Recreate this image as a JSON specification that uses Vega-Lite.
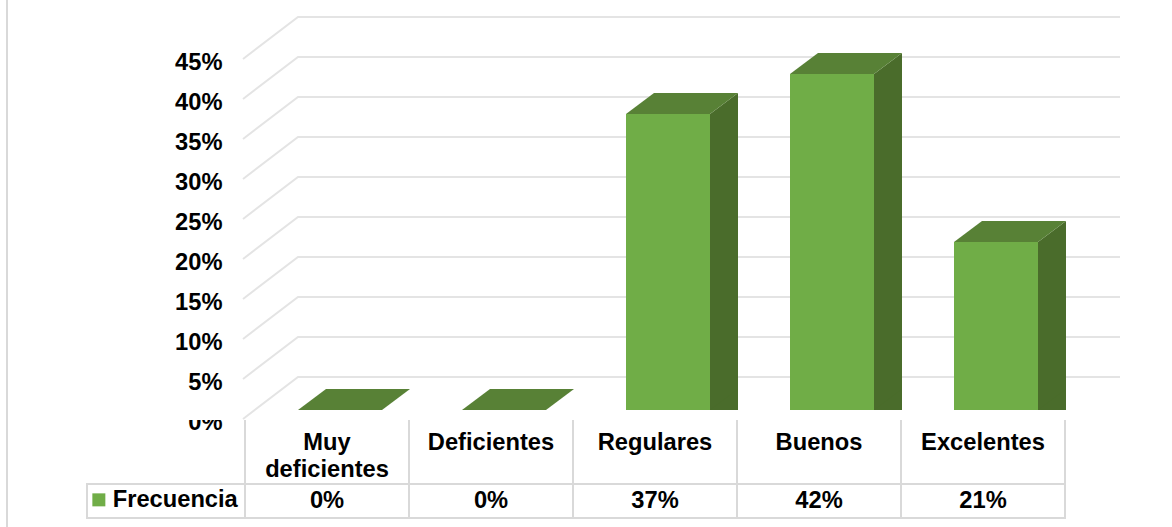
{
"$schema":"https://vega.github.io/schema/vega-lite/v6.json",
"width":1172,"height":527,"autosize":{"type":"none"},"padding":0,"background":"#ffffff",
"view":{"stroke":null},
"config":{"text":{"font":"Liberation Sans"}},
"datasets":{
"filas":[
{"categoria":"Muy deficientes","valor":0,"serie":"Frecuencia"},
{"categoria":"Deficientes","valor":0,"serie":"Frecuencia"},
{"categoria":"Regulares","valor":0.37,"serie":"Frecuencia"},
{"categoria":"Buenos","valor":0.42,"serie":"Frecuencia"},
{"categoria":"Excelentes","valor":0.21,"serie":"Frecuencia"}],
"rejilla":[{"nivel":0},{"nivel":0.05},{"nivel":0.1},{"nivel":0.15},{"nivel":0.2},{"nivel":0.25},{"nivel":0.3},{"nivel":0.35},{"nivel":0.4},{"nivel":0.45}]
},
"data":{"name":"filas"},
"encoding":{
"x":{"field":"categoria","type":"nominal","sort":null,"axis":null,
"scale":{"type":"band","domain":["Muy deficientes","Deficientes","Regulares","Buenos","Excelentes"],"range":[258,1078],"paddingInner":0,"paddingOuter":0}},
"y":{"field":"valor","type":"quantitative","scale":{"domain":[0,0.5],"range":[410,10],"nice":false,"zero":false}}
},
"layer":[
{"data":{"name":"rejilla"},
"mark":{"type":"point","shape":"M-97,9 L-42,-33 H780","size":4,"filled":false,"stroke":"#e4e4e4","strokeWidth":2,"opacity":1},
"encoding":{"x":{"datum":"Muy deficientes"},
"y":{"field":"nivel","type":"quantitative","axis":{"values":[0,0.05,0.1,0.15,0.2,0.25,0.3,0.35,0.4,0.45],"format":".0%","title":null,"domain":false,"ticks":false,"grid":false,"offset":-232,"labelPadding":10,"labelOffset":12,"labelFont":"Liberation Sans","labelFontWeight":"bold","labelFontSize":23.7,"labelColor":"#000000","labelBaseline":"middle","labelOverlap":false,"labelFlush":false}}}},
{"mark":{"type":"point","shape":"M-333,-410 V117","size":4,"filled":false,"stroke":"#d9d9d9","strokeWidth":2,"opacity":1},
"encoding":{"x":{"datum":"Muy deficientes"},"y":{"datum":0}}},
{"transform":[{"filter":"datum.valor > 0"}],
"mark":{"type":"bar","width":28,"xOffset":56,"y2Offset":-21,"color":"#4a6c2b"},
"encoding":{"y":{"field":"valor","type":"quantitative","stack":null}}},
{"transform":[{"filter":"datum.valor > 0"}],
"mark":{"type":"point","shape":"M42,0 L70,-21 V0 Z","size":4,"filled":true,"fill":"#4a6c2b","opacity":1,"strokeWidth":0}},
{"transform":[{"filter":"datum.valor > 0"}],
"mark":{"type":"point","shape":"M42,0 L70,-21 H42 Z","size":4,"filled":true,"fill":"#4a6c2b","opacity":1,"strokeWidth":0},
"encoding":{"y":{"datum":0}}},
{"mark":{"type":"point","shape":"M-42,0 L-14,-21 H70 L42,0 Z","size":4,"filled":true,"fill":"#588136","opacity":1,"strokeWidth":0}},
{"mark":{"type":"bar","width":84},
"encoding":{"y":{"field":"valor","type":"quantitative","stack":null},
"color":{"field":"serie","type":"nominal","scale":{"range":["#70ad47"]},
"legend":{"title":null,"orient":"none","legendX":87,"legendY":488,"symbolType":"square","symbolSize":169,"symbolStrokeWidth":0,"symbolOpacity":1,"labelFont":"Liberation Sans","labelFontWeight":"bold","labelFontSize":23.7,"labelColor":"#000000","labelOffset":2,"padding":0}}}},
{"mark":{"type":"point","shape":"M-200,-6 H-105 V10 H-200 Z","size":4,"filled":true,"fill":"#ffffff","opacity":1,"strokeWidth":0},
"encoding":{"x":{"datum":"Muy deficientes"},"y":{"datum":0}}},
{"mark":{"type":"point","shape":"M-95,10 V108 H69 V10 M-95,74 H69","size":4,"filled":false,"stroke":"#d9d9d9","strokeWidth":2,"opacity":1},
"encoding":{"y":{"datum":0}}},
{"mark":{"type":"point","shape":"M-95,74 H-253 V108 H-95","size":4,"filled":false,"stroke":"#d9d9d9","strokeWidth":2,"opacity":1},
"encoding":{"x":{"datum":"Muy deficientes"},"y":{"datum":0}}},
{"mark":{"type":"text","font":"Liberation Sans","fontWeight":"bold","fontSize":23.7,"color":"#000000","xOffset":-13,"yOffset":40,"baseline":"alphabetic","lineBreak":" ","lineHeight":27},
"encoding":{"y":{"datum":0},"text":{"field":"categoria","type":"nominal"}}},
{"mark":{"type":"text","font":"Liberation Sans","fontWeight":"bold","fontSize":23.7,"color":"#000000","xOffset":-13,"yOffset":98,"baseline":"alphabetic"},
"encoding":{"y":{"datum":0},"text":{"field":"valor","type":"quantitative","format":".0%"}}}
]
}
